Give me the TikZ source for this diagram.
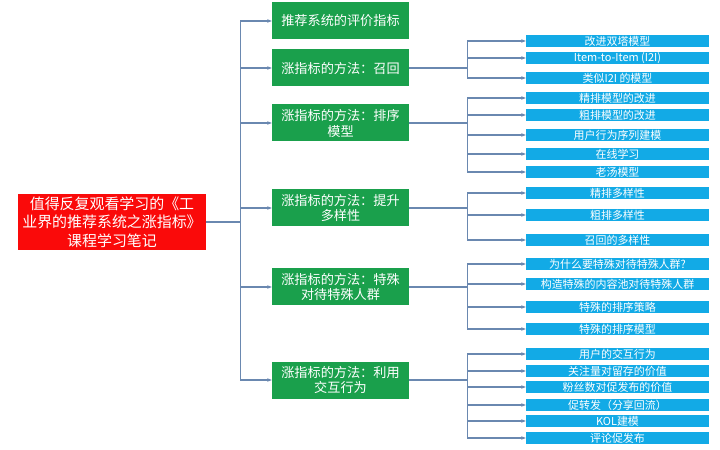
\documentclass[tikz,border=0pt]{standalone}
\usepackage{fontspec}
\setmainfont{Noto Sans CJK SC}
\usetikzlibrary{arrows.meta}

\definecolor{rootred}{RGB}{250,10,10}
\definecolor{topgreen}{RGB}{26,160,76}
\definecolor{leafblue}{RGB}{18,170,230}
\definecolor{linkblue}{RGB}{106,136,176}

\newcommand*{\trunkx}{34}
\newcommand*{\subx}{58}

\begin{document}
\begin{tikzpicture}
[
	x=1bp,y=-1bp,
	rootbox/.style={fill=rootred,text=white,inner sep=0pt,minimum width=188bp,minimum height=56bp,align=center,font=\fontsize{15}{18.5}\selectfont},
	topbox/.style={fill=topgreen,text=white,inner sep=0pt,minimum width=137bp,minimum height=37bp,align=center,font=\fontsize{13.2}{16}\selectfont},
	leafbox/.style={fill=leafblue,text=white,inner sep=0pt,minimum width=183bp,minimum height=12.5bp,font=\fontsize{11}{12}\selectfont},
	link/.style={draw=linkblue,line width=1.1bp,-{Stealth[length=4.5bp,width=3.5bp]}},
	plainlink/.style={draw=linkblue,line width=1.1bp}
]

	\useasboundingbox (0,0) rectangle (720,450);

	% root
	\node[rootbox] (root) at (112,222) {值得反复观看学习的《工\\业界的推荐系统之涨指标》\\课程学习笔记};

	% first level
	\node[topbox] (eval) at (340.5,21) {推荐系统的评价指标};
	\node[topbox] (recall) at (340.5,68) {涨指标的方法：召回};
	\node[topbox] (rank) at (340.5,123) {涨指标的方法：排序\\模型};
	\node[topbox] (divers) at (340.5,208) {涨指标的方法：提升\\多样性};
	\node[topbox] (special) at (340.5,287) {涨指标的方法：特殊\\对待特殊人群};
	\node[topbox] (interact) at (340.5,380) {涨指标的方法：利用\\交互行为};

	% leaves
	\foreach \y/\name/\txt in {
		41/rc1/改进双塔模型,
		58/rc2/Item-to-Item (I2I),
		78/rc3/类似I2I 的模型,
		98/rk1/精排模型的改进,
		115/rk2/粗排模型的改进,
		135/rk3/用户行为序列建模,
		154/rk4/在线学习,
		172/rk5/老汤模型,
		193/dv1/精排多样性,
		215/dv2/粗排多样性,
		240/dv3/召回的多样性,
		264/sp1/为什么要特殊对待特殊人群?,
		284/sp2/构造特殊的内容池对待特殊人群,
		307/sp3/特殊的排序策略,
		329/sp4/特殊的排序模型,
		354/ia1/用户的交互行为,
		371/ia2/关注量对留存的价值,
		387/ia3/粉丝数对促发布的价值,
		405/ia4/促转发（分享回流）,
		421/ia5/KOL建模,
		438/ia6/评论促发布}
	{
		\node[leafbox] (\name) at (617.5,\y) {\txt};
	}

	% trunk to first level
	\foreach \t in {eval,recall,rank,divers,special,interact} {
		\draw[link] (root.east) -- ++(\trunkx,0) |- (\t.west);
	}

	% first level to leaves
	\foreach \t/\lst in {recall/{rc1,rc2,rc3},rank/{rk1,rk2,rk3,rk4,rk5},divers/{dv1,dv2,dv3},special/{sp1,sp2,sp3,sp4},interact/{ia1,ia2,ia3,ia4,ia5,ia6}} {
		\foreach \l in \lst {
			\draw[link] (\t.east) -- ++(\subx,0) |- (\l.west);
		}
	}

\end{tikzpicture}
\end{document}
